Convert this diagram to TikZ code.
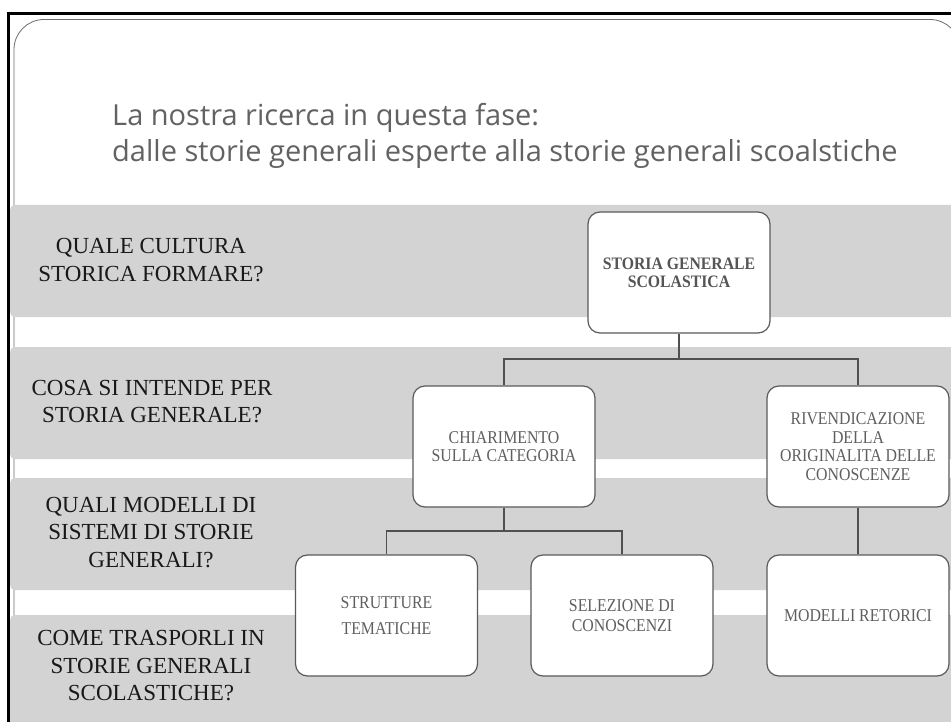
\documentclass[tikz,border=0pt]{standalone}
\usepackage{fontspec}
\setmainfont{Liberation Serif}
\newfontfamily\titlefont{Open Sans}
\newfontfamily\labelfont{Liberation Serif}
\newfontfamily\boxfont[FakeStretch=0.88]{Liberation Serif}
\newfontfamily\boxboldfont[FakeStretch=0.9]{Liberation Serif Bold}
\definecolor{bandgray}{RGB}{211,211,211}
\definecolor{titlegray}{RGB}{98,98,98}
\definecolor{labelblack}{RGB}{25,25,25}
\definecolor{boxtext}{RGB}{95,95,95}
\definecolor{boxbold}{RGB}{85,85,85}
\definecolor{boxline}{RGB}{90,90,90}
\definecolor{connline}{RGB}{80,80,80}
\definecolor{framegray}{RGB}{110,110,110}
\tikzset{
  band/.style={fill=bandgray, rounded corners=5pt},
  qlabel/.style={inner sep=0pt, align=center, text=labelblack, font=\labelfont\fontsize{23}{27.5}\selectfont},
  boxnode/.style={draw=boxline, fill=white, line width=1.2pt, rounded corners=12pt,
    minimum width=182pt, minimum height=121pt, inner sep=0pt, align=center,
    text=boxtext, font=\boxfont\fontsize{18}{18.5}\selectfont},
  conn/.style={draw=connline, line width=1.6pt}
}
\begin{document}
\begin{tikzpicture}[x=1pt,y=-1pt]
\useasboundingbox (0,0) rectangle (951,722);
\clip (0,0) rectangle (951,722);
\fill[white] (0,0) rectangle (951,722);
% outer frame
\draw[black, line width=2.7pt] (8.3,740) -- (8.3,13.3) -- (970,13.3);
% inner rounded frame
\draw[framegray, line width=0.8pt, rounded corners=30pt] (14,760) -- (14,19.5) -- (960,19.5) -- (960,760);
% bands
\path[band] (10,205) rectangle (975,317);
\path[band] (10,347) rectangle (975,459);
\path[band] (10,478) rectangle (975,590);
\path[band] (10,615) rectangle (975,740);
% title
\node[anchor=west, inner sep=0pt, align=left, text=titlegray,
  font=\titlefont\fontsize{29}{36.7}\selectfont] (title) at (112,135.8)
  {La nostra ricerca in questa fase:\\dalle storie generali esperte alla storie generali scoalstiche};
% left questions
\node[qlabel] (q1) at (151,259.9) {QUALE CULTURA\\STORICA FORMARE?};
\node[qlabel] (q2) at (152,401.5) {COSA SI INTENDE PER\\STORIA GENERALE?};
\node[qlabel] (q3) at (151,532.4) {QUALI MODELLI DI\\SISTEMI DI STORIE\\GENERALI?};
\node[qlabel] (q4) at (151,665.7) {COME TRASPORLI IN\\STORIE GENERALI\\SCOLASTICHE?};
% boxes
\node[boxnode, font=\boxboldfont\fontsize{17.5}{18.3}\selectfont, text=boxbold] (A) at (679,272.5) {STORIA GENERALE\\SCOLASTICA};
\node[boxnode] (B) at (504,446.5) {CHIARIMENTO\\SULLA CATEGORIA};
\node[boxnode] (C) at (858,446.5) {RIVENDICAZIONE\\DELLA\\ORIGINALITA DELLE\\CONOSCENZE};
\node[boxnode, font=\boxfont\fontsize{18}{26}\selectfont] (D) at (386.5,615.5) {STRUTTURE\\TEMATICHE};
\node[boxnode, font=\boxfont\fontsize{18}{19.5}\selectfont] (E) at (622,615.5) {SELEZIONE DI\\CONOSCENZI};
\node[boxnode] (F) at (858,615.5) {MODELLI RETORICI};
% connectors
\coordinate (jA) at (679,359);
\coordinate (jB) at (504,530.7);
\draw[conn] (A.south) -- (jA) -| (B.north);
\draw[conn] (jA) -| (C.north);
\draw[conn] (B.south) -- (jB) -| (D.north);
\draw[conn] (jB) -| (E.north);
\draw[conn] (C.south) -- (F.north);
\end{tikzpicture}
\end{document}
